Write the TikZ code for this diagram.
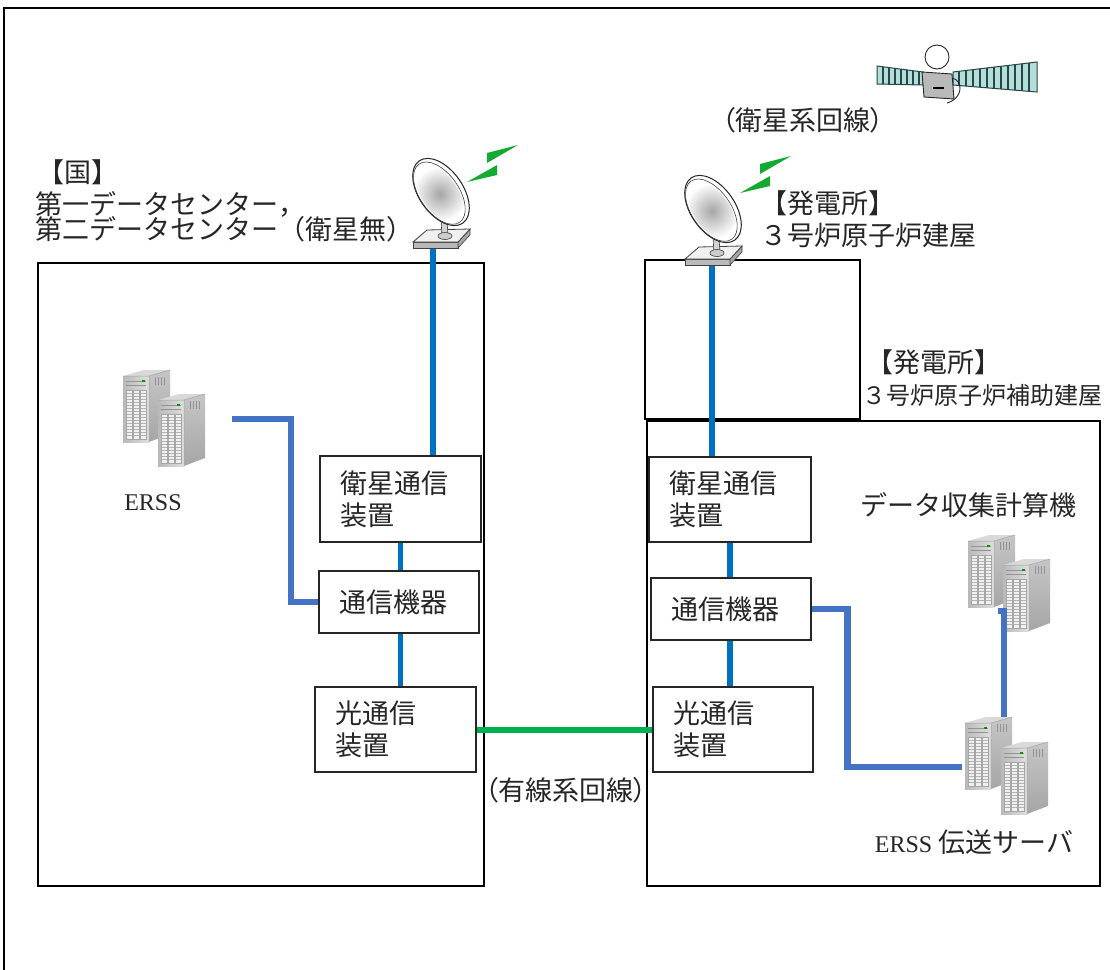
\documentclass[tikz,border=0pt]{standalone}
\usepackage{fontspec}
\setmainfont{Liberation Serif}
\newfontfamily\jp{Noto Sans CJK JP}
\newfontfamily\jpp[RawFeature=+palt]{Noto Sans CJK JP}
\definecolor{blueA}{RGB}{0,112,192}
\definecolor{blueB}{RGB}{68,114,196}
\definecolor{greenA}{RGB}{0,176,80}
\definecolor{boltgreen}{RGB}{20,170,50}
\definecolor{panel}{RGB}{180,222,218}
\definecolor{panelline}{RGB}{40,70,70}
\tikzset{
  bld/.style={draw=black, line width=1.6pt, inner sep=0pt},
  dev/.style={draw=black!85, line width=1.1pt, fill=white,
    font=\jp\fontsize{27pt}{32pt}\selectfont, align=left,
    inner xsep=20pt, inner ysep=0pt, text=black!85},
  lbl/.style={font=\jp\fontsize{27pt}{32pt}\selectfont, inner sep=0pt, text=black!85},
  bluev/.style={draw=blueA, line width=5.5pt},
  blueb/.style={draw=blueB, line width=6.5pt},
  greenl/.style={draw=greenA, line width=6pt},
  srvunit/.pic={
    \shade[top color=gray!45, bottom color=gray!70] (26,8) -- (47,2) -- (47,66) -- (26,74) -- cycle;
    \fill[gray!30] (0,8) -- (21,2) -- (47,2) -- (26,8) -- cycle;
    \shade[left color=gray!55, right color=gray!25] (0,8) rectangle (26,74);
    \draw[gray!85, line width=0.9pt] (3,13) -- (23,13) (3,17) -- (23,17);
    \fill[green!60!black] (19,11.5) rectangle (22,13.5);
    \foreach \cx in {3,10,17}{
      \fill[gray!12] (\cx,22) rectangle ++(6,49);
      \foreach \yy in {25,28,...,68} \draw[gray!60, line width=0.5pt] (\cx,\yy) -- ++(6,0);
      \draw[gray!70, line width=0.5pt] (\cx,22) rectangle ++(6,49);
    }
    \foreach \vx in {32,35,38,41} \draw[gray!85, line width=0.8pt] (\vx,9) -- (\vx,17);
    \draw[gray!75, line width=0.5pt] (0,8) -- (26,8) -- (47,2) (26,8) -- (26,74);
  },
  antenna/.pic={
    \filldraw[fill=gray!55, draw=black!75, line width=0.6pt] (-28,50) -- (17,50) -- (17,56) -- (-28,56) -- cycle;
    \filldraw[fill=gray!70, draw=black!75, line width=0.6pt] (17,50) -- (29,37) -- (29,43) -- (17,56) -- cycle;
    \filldraw[fill=gray!12, draw=black!75, line width=0.8pt] (-28,50) -- (-14,38) -- (29,37) -- (17,50) -- cycle;
    \filldraw[fill=gray!35, draw=black!75, line width=0.6pt] (0,28) -- (6,28) -- (7,44) -- (1,44) -- cycle;
    \filldraw[fill=gray!40, draw=black!75, line width=0.6pt] (4,44) ellipse [x radius=7, y radius=3.5];
    \filldraw[fill=white, draw=black!85, line width=1pt, rotate=35] (0,0) ellipse [x radius=22, y radius=38];
    \shade[inner color=gray!70, outer color=white, rotate=35] (-2,1) ellipse [x radius=18, y radius=34];
    \draw[black!75, line width=0.6pt, rotate=35] (-2,0) ellipse [x radius=19.5, y radius=35.5];
  }
}
\begin{document}
\begin{tikzpicture}[x=1pt,y=-1pt]
\useasboundingbox (0,0) rectangle (1110,969);
\clip (0,0) rectangle (1110,969);
\fill[white] (0,0) rectangle (1110,969);
% outer frame
\draw[black, line width=2pt] (4,980) -- (4,8) -- (1120,8);

% buildings
\node[bld, minimum width=446pt, minimum height=623pt] (lbld) at (261,574.5) {};
\node[bld, minimum width=215pt, minimum height=159pt] (rtop) at (752.5,339.5) {};
\node[bld, minimum width=453pt, minimum height=465pt] (rbld) at (873.5,653.5) {};

% devices left
\node[dev, minimum width=161pt, minimum height=86pt, text width=121pt] (ls) at (400.5,499) {衛星通信\\装置};
\node[dev, minimum width=160pt, minimum height=62pt, text width=120pt] (lc) at (399,602) {通信機器};
\node[dev, minimum width=161pt, minimum height=85pt, text width=121pt] (lo) at (395.5,729.5) {光通信\\装置};
% devices right
\node[dev, minimum width=162pt, minimum height=85pt, text width=122pt] (rs) at (730,499.5) {衛星通信\\装置};
\node[dev, minimum width=160pt, minimum height=62pt, text width=120pt] (rc) at (731,609) {通信機器};
\node[dev, minimum width=160pt, minimum height=85pt, text width=120pt] (ro) at (733,729.5) {光通信\\装置};

% coordinates
\coordinate (la) at (433,249);
\coordinate (ra) at (712,263);
\coordinate (ee) at (232,419);
\coordinate (tsin) at (962,767);
\coordinate (tsup) at (1004,717);
\coordinate (dsdn) at (1004,611);
\coordinate (dstk) at (998,611);

% connectors
\draw[bluev] (la) -- (la |- ls.north);
\draw[bluev] (ls.south) -- (ls.south |- lc.north);
\draw[bluev] (ls.south |- lc.south) -- (ls.south |- lo.north);
\draw[blueb] (ee) -- ++(59,0) |- (lc.west);
\draw[bluev] (ra) -- (ra |- rs.north);
\draw[bluev] (rs.south) -- (rs.south |- rc.north);
\draw[bluev] (rs.south |- rc.south) -- (rs.south |- ro.north);
\draw[blueb] (rc.east) -- ++(36,0) |- (tsin);
\draw[greenl] (lo.east) -- (ro.west);

% servers
\pic at (123,368) {srvunit};
\pic at (158,392) {srvunit};
\pic at (968,533) {srvunit};
\pic at (1003,557) {srvunit};
\pic at (965,715) {srvunit};
\pic at (1001,740) {srvunit};
\draw[blueb] (tsup) -- (dsdn) -- (dstk);

% antennas
\pic at (441,192) {antenna};
\pic at (713,209) {antenna};
\fill[boltgreen] (467,182) -- (497,165) -- (497,175) -- cycle;
\fill[boltgreen] (487,153) -- (487,163) -- (518,145) -- cycle;
\fill[boltgreen] (740,193) -- (770,176) -- (770,186) -- cycle;
\fill[boltgreen] (760,164) -- (760,174) -- (791,156) -- cycle;

% satellite
\filldraw[fill=white, draw=black!85, line width=0.9pt] (937,57) circle (12);
\filldraw[fill=panel, draw=panelline, line width=1pt] (877,66) -- (923,72) -- (923,85) -- (877,84) -- cycle;
\begin{scope}
  \clip (877,66) -- (923,72) -- (923,85) -- (877,84) -- cycle;
  \foreach \sx in {883,889,...,920} \draw[panelline, line width=1.1pt] (\sx,60) -- (\sx,90);
\end{scope}
\filldraw[fill=panel, draw=panelline, line width=1pt] (953,72) -- (1037,62) -- (1037,92) -- (953,85) -- cycle;
\begin{scope}
  \clip (953,72) -- (1037,62) -- (1037,92) -- (953,85) -- cycle;
  \foreach \sx in {959,966,...,1034} \draw[panelline, line width=1.1pt] (\sx,55) -- (\sx,95);
\end{scope}
\filldraw[fill=gray!55, draw=black!85, line width=0.9pt] (922,72) -- (952,74) -- (954,99) -- (924,97) -- cycle;
\draw[black, line width=1.3pt] (933,88) -- (944,88);
\draw[black!85, line width=0.9pt] (952,78) .. controls (963,80) and (964,98) .. (947,103);

% labels
\node[lbl, anchor=west] (kuni) at (37,172) {【国】};
\node[lbl, anchor=west] (dc1) at (35,204) {第一データセンター，};
\node[lbl, anchor=west] (dc2) at (35,229) {第二データセンター（衛星無）};
\node[lbl, font=\jpp\fontsize{27pt}{32pt}\selectfont] (satl) at (803,120) {（衛星系回線）};
\node[lbl, anchor=west] (h1) at (760,203) {【発電所】};
\node[lbl, anchor=west] (h2) at (760,235) {３号炉原子炉建屋};
\node[lbl, anchor=west] (a1) at (866,362) {【発電所】};
\node[lbl, anchor=west, font=\jp\fontsize{24pt}{28pt}\selectfont] (a2) at (862,395) {３号炉原子炉補助建屋};
\node[lbl, font=\rmfamily\fontsize{24pt}{28pt}\selectfont] (erss) at (153,503) {ERSS};
\node[lbl] (dlbl) at (968,505) {データ収集計算機};
\node[lbl] (tlbl) at (974,842) {{\rmfamily\fontsize{24pt}{28pt}\selectfont ERSS} 伝送サーバ};
\node[lbl, font=\jpp\fontsize{27pt}{32pt}\selectfont] (wlbl) at (566,790) {（有線系回線）};
\end{tikzpicture}
\end{document}
